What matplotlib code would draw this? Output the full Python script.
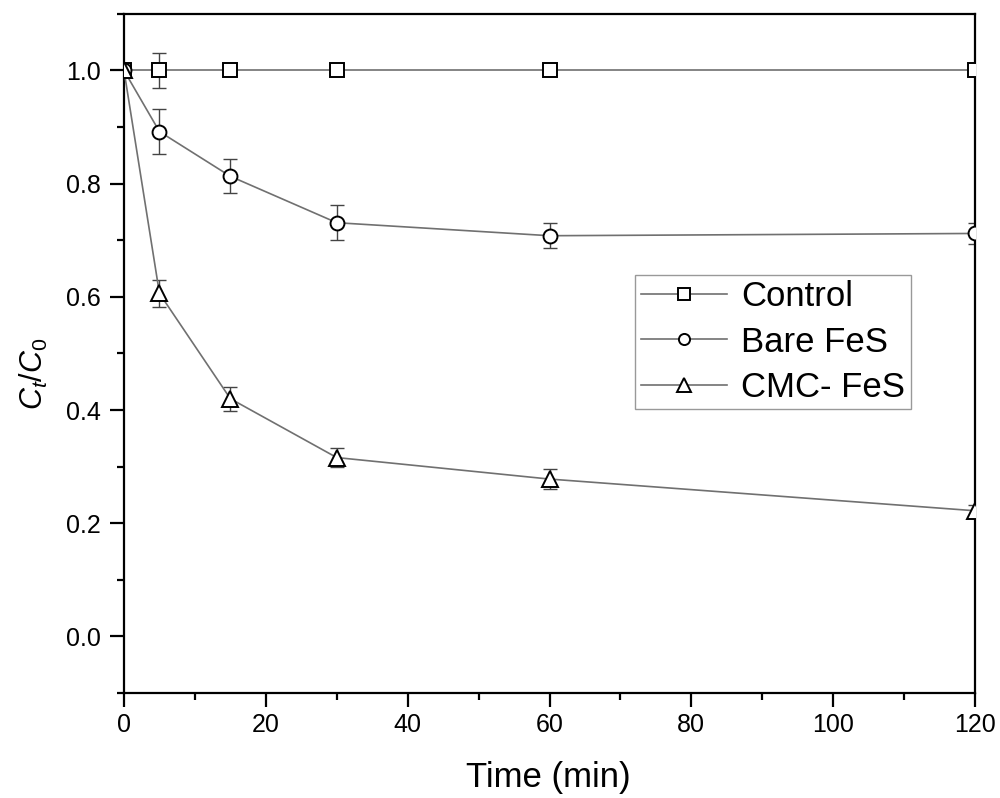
import matplotlib
matplotlib.use("Agg")
import matplotlib.pyplot as plt
from matplotlib.ticker import MultipleLocator, FormatStrFormatter

plt.rcParams['font.family'] = ['Liberation Sans', 'DejaVu Sans']
plt.rcParams['mathtext.fontset'] = 'custom'
plt.rcParams['mathtext.it'] = 'Liberation Sans:italic'
plt.rcParams['mathtext.rm'] = 'Liberation Sans'

time = [0, 5, 15, 30, 60, 120]
control = [1.0, 1.0, 1.0, 1.0, 1.0, 1.0]
control_err = [0.0, 0.031, 0.004, 0.004, 0.004, 0.004]
bare = [1.0, 0.892, 0.813, 0.731, 0.708, 0.712]
bare_err = [0.0, 0.040, 0.030, 0.031, 0.022, 0.019]
cmc = [1.0, 0.606, 0.420, 0.316, 0.278, 0.222]
cmc_err = [0.0, 0.024, 0.021, 0.017, 0.018, 0.010]
labels = ["Control", "Bare FeS", "CMC- FeS"]

fig = plt.figure(figsize=(10, 7.98), dpi=100)
ax = fig.add_axes([0.124, 0.1316, 0.851, 0.851])

series = [(control, control_err, 's', 10), (bare, bare_err, 'o', 10), (cmc, cmc_err, '^', 12)]
for (vals, err, mk, ms), lab in zip(series, labels):
    ax.errorbar(time, vals, yerr=err, fmt='none', ecolor='#444444', elinewidth=1.0,
                capsize=5, capthick=1.0, zorder=2)
    ax.plot(time, vals, color='#707070', lw=1.2, marker=mk, markersize=ms,
            markerfacecolor='white', markeredgecolor='black', markeredgewidth=1.4,
            label=lab, zorder=3)

ax.set_xlim(0, 120)
ax.set_ylim(-0.1, 1.1)
ax.xaxis.set_major_locator(MultipleLocator(20))
ax.xaxis.set_minor_locator(MultipleLocator(10))
ax.yaxis.set_major_locator(MultipleLocator(0.2))
ax.yaxis.set_minor_locator(MultipleLocator(0.1))
ax.yaxis.set_major_formatter(FormatStrFormatter('%.1f'))

for s in ax.spines.values():
    s.set_linewidth(1.6)
ax.tick_params(which='major', direction='out', length=10, width=1.6, labelsize=18)
ax.tick_params(axis='x', which='major', pad=4.5)
ax.tick_params(axis='y', which='major', pad=7)
ax.tick_params(which='minor', direction='out', length=5, width=1.6)
ax.tick_params(top=False, right=False)

ax.set_xlabel("Time (min)", fontsize=25)
ax.xaxis.set_label_coords(0.499, -0.100)
ax.set_ylabel(r"$C_t/C_0$", fontsize=22)
ax.yaxis.set_label_coords(-0.087, 0.47)

leg = ax.legend(loc='upper left', bbox_to_anchor=(0.6005, 0.6156), borderaxespad=0,
                fontsize=25, frameon=True, fancybox=False, edgecolor='#808080',
                labelspacing=0.35, handlelength=2.5, handletextpad=0.4,
                borderpad=0.16, markerscale=0.8)
leg.get_frame().set_linewidth(1.0)

fig.savefig("out.png", dpi=100)
